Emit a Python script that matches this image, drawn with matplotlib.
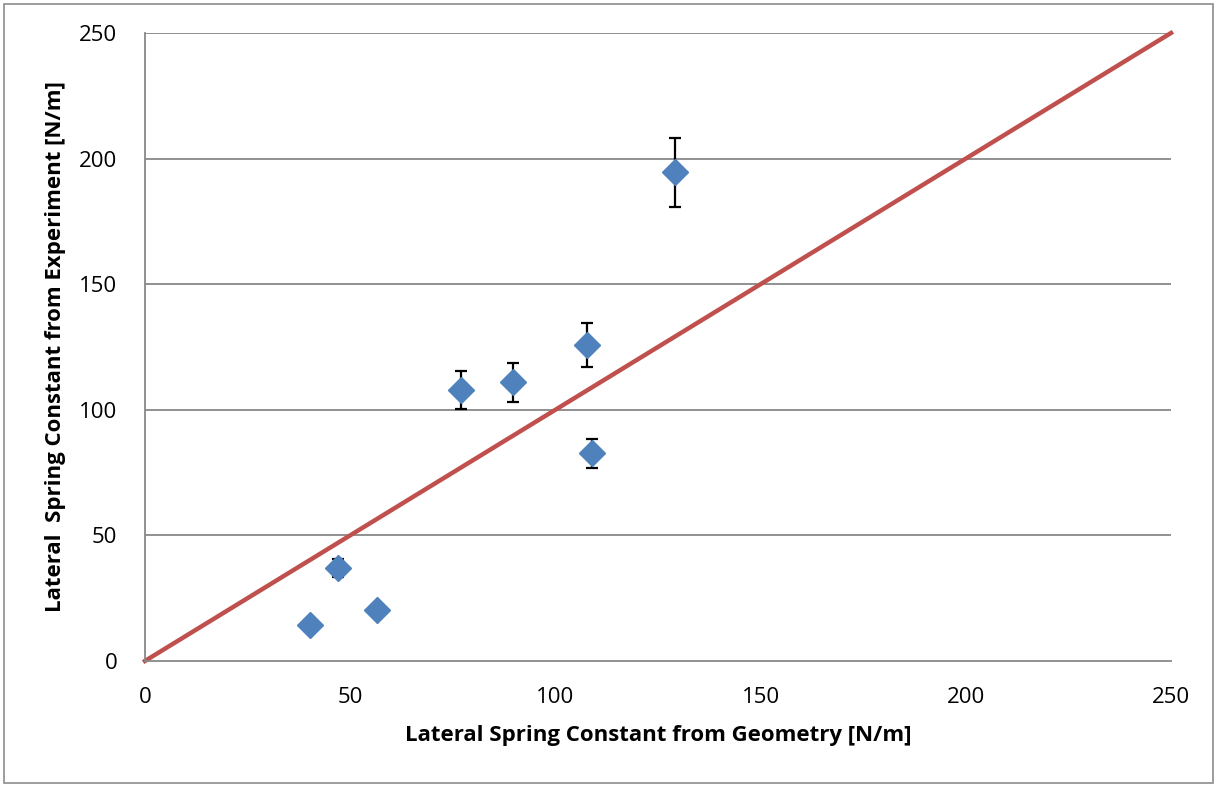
import matplotlib as mpl
mpl.use('Agg')
import matplotlib.pyplot as plt
from matplotlib.patches import Rectangle

plt.rcParams['font.family'] = ['Open Sans', 'DejaVu Sans']

# spring constants [N/m]
k_geometry = [40.2, 47.0, 56.5, 76.9, 89.7, 107.7, 109.0, 129.1]
k_experiment = [14.3, 37.0, 20.3, 107.9, 110.9, 125.8, 82.7, 194.6]
k_error = [1.0, 3.4, 1.0, 7.5, 7.8, 8.9, 5.8, 13.7]

ideal = [0, 250]
ticks = [0, 50, 100, 150, 200, 250]

fig = plt.figure(figsize=(12.15, 7.85), dpi=100)
fig.patches.append(Rectangle((0.0035, 0.002), 0.995, 0.993, transform=fig.transFigure,
                             fill=False, edgecolor='#8c8c8c', linewidth=1.2))
ax = fig.add_axes([0.1193, 0.158, 0.8445, 0.8])

ax.set_xlim(0, 250)
ax.set_ylim(0, 250)
ax.set_xticks(ticks)
ax.set_yticks(ticks)
ax.tick_params(axis='x', length=0, labelsize=16, pad=19)
ax.tick_params(axis='y', length=0, labelsize=16, pad=20)

for v in ticks[1:]:
    ax.axhline(v, color='#888888', linewidth=1.3, zorder=1)

for s in ['top', 'right']:
    ax.spines[s].set_visible(False)
for s in ['left', 'bottom']:
    ax.spines[s].set_color('#888888')
    ax.spines[s].set_linewidth(1.3)

ax.plot(ideal, ideal, color='#C0504D', linewidth=3.2, zorder=2, clip_on=False)

ax.errorbar(k_geometry, k_experiment, yerr=k_error, fmt='none', ecolor='black',
            elinewidth=1.6, capsize=4.5, capthick=1.6, zorder=3)
ax.plot(k_geometry, k_experiment, 'D', color='#4F81BD', markersize=13, zorder=4)

ax.set_xlabel('Lateral Spring Constant from Geometry [N/m]', fontsize=16,
              fontweight='bold', labelpad=12)
ax.set_ylabel('Lateral  Spring Constant from Experiment [N/m]', fontsize=16,
              fontweight='bold', labelpad=9)

fig.savefig('out.png', dpi=100)
